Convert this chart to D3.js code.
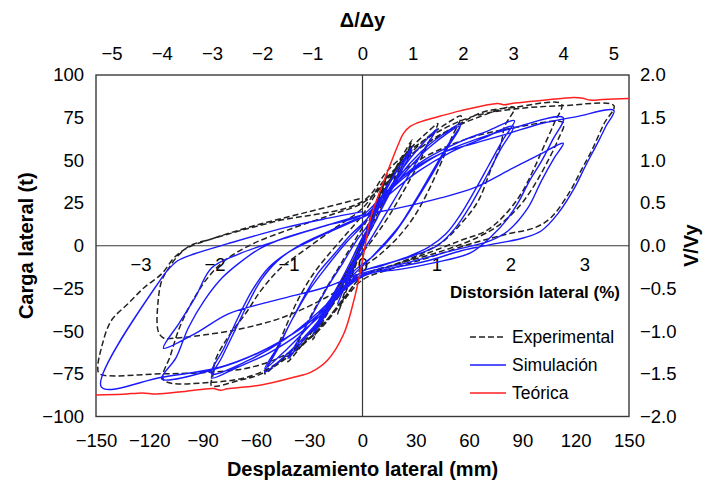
<!DOCTYPE html>
<html>
<head>
<meta charset="utf-8">
<script src="https://cdn.jsdelivr.net/npm/d3@7"></script>
<style>
  body { margin: 0; background: #fff; }
  text { font-family: "Liberation Sans", Arial, sans-serif; fill: #000; }
</style>
</head>
<body>
<svg id="chart" width="710" height="487"></svg>
<script>
// ---- axis ticks ----
const dispTicks = [-150, -120, -90, -60, -30, 0, 30, 60, 90, 120, 150];   // mm
const loadTicks = [-100, -75, -50, -25, 0, 25, 50, 75, 100];             // t
const ratioTicks = [-2.0, -1.5, -1.0, -0.5, 0.0, 0.5, 1.0, 1.5, 2.0];     // V/Vy
const ductTicks = [-5, -4, -3, -2, -1, 0, 1, 2, 3, 4, 5];                 // Δ/Δy
const driftTicks = [-3, -2, -1, 0, 1, 2, 3];                             // %

// ---- reference quantities ----
const yieldDisp = 28.25;   // Δy, mm
const yieldLoad = 50;      // Vy, t
const mmPerDrift = 41.65;  // mm of lateral displacement per 1 % drift

// ---- theoretical monotonic curve [mm, t] ----
const theory = [[-150,-87.4],[-135,-87],[-124,-86.2],[-116,-86.8],[-100,-85.3],[-84,-83.6],[-80,-84.6],[-76,-83.8],
  [-57,-81.5],[-38.8,-77],[-29,-74],[-19.7,-67],[-10.7,-52],[-5,-32.6],[-1,-14],[1,-3],[4,14],[8.4,28],[15.8,48],
  [20,59],[23,65.7],[27,70],[31,72],[44,76],[55,79],[76,83.3],[80,82.6],[84,83.3],[112,86.2],[119,86.8],[124,86.4],
  [128,85.3],[135,85.6],[150,86.2]];

// ---- simulated hysteresis, one array per cycle [mm, t] ----
const simC1 = [[0,0],[5,12],[10,26],[14,36],[9,24],[4,11],[0,1],[-5,-12],[-10,-24],[-14,-34],[-9,-21],[-4,-8],[1,4]];
const simC2 = [[1,4],[6,16],[12,30],[20,45],[28,58],[22,46],[15,31],[8,16],[2,4],[-4,-8],[-10,-20],[-18,-36],[-28,-52],
  [-21,-38],[-14,-24],[-7,-10],[-1,3],[3,10]];
const simC3 = [[3,10],[10,26],[18,42],[28,56],[21,42],[13,26],[5,10],[-2,-3],[-9,-17],[-18,-35],[-28,-50],[-20,-35],
  [-12,-20],[-5,-6],[2,8]];
const simC4 = [[2,8],[8,20],[16,35],[26,50],[35,61],[42,68.6],[35,57],[27,43],[19,29],[11,15],[4,3],[-3,-8],[-10,-20],
  [-19,-35],[-29,-50],[-37,-60],[-42,-66],[-35,-53],[-27,-38],[-19,-23],[-11,-10],[-4,2],[3,12]];
const simC5 = [[3,12],[11,25],[21,41],[33,55],[45,65],[55.5,71.6],[48,59],[39,43],[30,27],[21,12],[12,1],[3,-9],[-6,-18],
  [-16,-32],[-28,-48],[-41,-62],[-55,-74],[-48,-61],[-41,-46],[-33,-30],[-25,-16],[-16,-5],[-7,6],[1,14]];
const simC6 = [[1,14],[12,27],[24,43],[38,58],[55,70],[47,56],[37,38],[27,21],[17,6],[6,-6],[-5,-15],[-17,-30],[-30,-47],
  [-43,-61],[-55,-72],[-47,-58],[-39,-42],[-30,-26],[-20,-12],[-9,2],[0,12]];
const simC7 = [[0,12],[8,24],[20,38],[36,51],[55,61],[70,67],[85.5,73.3],[79,62],[71,47],[63,32],[55,18],[47,7],[37,-1],
  [24,-7],[10,-12],[0,-15],[-9,-24],[-20,-37],[-35,-51],[-53,-63],[-70,-71],[-85,-77.4],[-79,-65],[-72,-50],[-65,-35],
  [-57,-20],[-48,-9],[-36,0],[-20,8],[-5,15],[3,18]];
const simC8 = [[3,18],[15,30],[32,44],[50,55],[68,63],[85,70],[78,57],[70,41],[61,24],[52,10],[42,0],[28,-6],[12,-11],
  [0,-15],[-12,-26],[-26,-40],[-44,-55],[-64,-67],[-85,-75],[-78,-60],[-70,-42],[-62,-26],[-53,-13],[-42,-4],[-25,5],
  [-8,13],[2,18]];
const simC9 = [[2,18],[12,29],[26,42],[44,54],[63,62],[85,69],[113,75],[107,62],[101,50],[94,38],[88,26],[81,15],[74,7],
  [61,-4],[40,-10],[20,-14],[0,-17],[-11,-26],[-22,-38],[-37,-50],[-59,-63],[-82,-72],[-113,-78],[-105,-65.7],[-98,-48],
  [-89,-32],[-79,-18.8],[-70,-10.6],[-57,-1.2],[-43.6,4.7],[-20,12],[0,18]];
const simC10 = [[0,18],[20,22],[44,28],[63,34],[82,44],[100.7,54],[113,60],[108,51.6],[100.7,38],[93,22],[82,8.8],[72,3],
  [50,-3],[25,-10],[0,-16],[-20,-24],[-43.6,-30.5],[-57,-34],[-75.8,-40],[-94.5,-51.6],[-112,-60],[-103,-45],[-94,-30],
  [-85,-13],[-70,-5],[-45,4],[-20,12],[0,18]];
const simC11 = [[0,18],[10,28],[22,40],[44,54],[63,60],[82,65.7],[100.7,71.6],[120,75.5],[141.5,79.2],[137,70],[133,61.6],
  [125,45.7],[119.4,34],[110,18.8],[100.7,8.8],[91,4.7],[78,1.8],[63,-1.2],[55.5,-2.9],[36.8,-8.8],[17.5,-12.9],[0,-18],
  [-10.8,-26.4],[-22,-38],[-36.8,-50],[-59.4,-63],[-82,-71.6],[-113,-77],[-147,-82.7],[-113,-18.8],[-110,-14.7],
  [-104,-8.8],[-94.5,-4.7],[-75.8,1.2],[-43.6,10.6],[-20,16],[0,20]];

// ---- experimental hysteresis, one array per cycle [mm, t] ----
const expC1 = [[0,0],[4,14],[7,24],[3,12],[0,2],[-4,-10],[-7,-20],[-3,-9],[0,1]];
const expC2 = [[0,1],[5,16],[10,30],[14,42],[9,28],[4,14],[0,3],[-5,-12],[-10,-27],[-14,-40],[-9,-26],[-4,-12],[1,4]];
const expC3 = [[1,4],[7,20],[14,36],[21,50],[28,62],[22,48],[15,32],[8,16],[1,2],[-6,-12],[-13,-27],[-21,-42],[-28,-55],
  [-21,-40],[-14,-25],[-6,-10],[0,3],[6,18]];
const expC4 = [[6,18],[13,33],[20,47],[28,59],[21,44],[13,28],[5,12],[-2,-2],[-9,-17],[-18,-35],[-28,-52],[-20,-36],
  [-12,-21],[-4,-6],[3,10]];
const expC5 = [[3,10],[10,28],[18,44],[28,58],[36,66],[42.4,71.6],[37,60],[30,45],[22,30],[14,16],[6,4],[-2,-7],[-10,-22],
  [-20,-38],[-31,-54],[-42,-68],[-36,-56],[-29,-41],[-21,-26],[-13,-12],[-5,2],[2,14]];
const expC6 = [[2,14],[10,30],[22,48],[36,63],[48,72],[55.5,76],[50,63],[44,48],[37,32],[29,17],[20,5],[10,-5],[0,-13],
  [-10,-25],[-22,-42],[-36,-58],[-47,-68],[-55,-75],[-49,-62],[-43,-47],[-36,-31],[-28,-17],[-19,-5],[-9,7],[0,18]];
const expC7 = [[0,18],[10,34],[24,50],[42,64],[62,74],[85.5,81],[80,70],[78,60],[72,44],[65,26],[55.5,13],[46,3],
  [33,-4.7],[18,-11],[0,-18],[-10,-30],[-22,-46],[-38,-62],[-57,-75],[-70,-79],[-85,-82],[-84,-75],[-83,-67.5],[-76,-54],
  [-66,-40],[-57,-26],[-46,-13],[-32,-2],[-16,10],[0,22]];
const expC8 = [[0,22],[12,38],[28,54],[48,67],[67,78],[85,81],[112,83],[108,72],[102,58],[96,44],[89,30],[80,18],[70,9],
  [55,3],[35,-5],[16,-12],[0,-18],[-10,-30],[-24,-48],[-44,-66],[-62,-76],[-85,-80],[-112,-78.5],[-108,-64],[-103,-48],
  [-96,-33],[-88,-20],[-78,-9],[-62,1],[-40,10],[-18,18],[0,25]];
const expC9 = [[0,25],[15,38],[35,52],[60,63],[85,69],[113,72],[110,62],[104,49],[97,36],[89,24],[78,13],[65,5],[45,-3],
  [22,-10],[0,-17],[-20,-30],[-45,-42],[-70,-49],[-95,-53],[-104,-54],[-112,-54],[-115,-50],[-115,-32],[-113,-20.5],
  [-110,-14.7],[-104,-6],[-97,0],[-85,4],[-50,14],[0,26]];
const expC10 = [[0,26],[15,45],[35,62],[60,75],[85,80],[112,82],[141.5,82],[136,71.6],[129,55.7],[123,44],[116,30.5],
  [106,16.4],[97,10.6],[82,7],[63,1.8],[37,-7],[18,-13],[0,-20],[-12,-34],[-25,-50],[-42,-63],[-62,-71],[-85,-74],
  [-113,-75],[-148,-75],[-149,-71.6],[-147,-60],[-141.5,-44],[-132,-34],[-123,-24.6],[-113,-16.4],[-106,-7],[-98.5,-1.2],
  [-85,4],[-60,12],[-30,20],[0,28]];

const simCycles = [simC1, simC2, simC3, simC4, simC5, simC6, simC7, simC8, simC9, simC10, simC11];
const expCycles = [expC1, expC2, expC3, expC4, expC5, expC6, expC7, expC8, expC9, expC10];

// join cycles into one continuous loading history
function joinCycles(cycles) {
  const out = [];
  cycles.forEach((c, i) => c.forEach((p, j) => { if (i === 0 || j > 0) out.push(p); }));
  return out;
}
const simulation = joinCycles(simCycles);
const experimental = joinCycles(expCycles);

// ---- layout ----
const svg = d3.select("#chart");
const plot = { left: 96, right: 629, top: 75, bottom: 416.5 };

const x = d3.scaleLinear().domain([-150, 150]).range([plot.left, plot.right]);
const y = d3.scaleLinear().domain([-100, 100]).range([plot.bottom, plot.top]);
const yRatio = d3.scaleLinear().domain([-100 / yieldLoad, 100 / yieldLoad]).range([plot.bottom, plot.top]);
const xDuct = d3.scaleLinear().domain([-150 / yieldDisp, 150 / yieldDisp]).range([plot.left, plot.right]);
const xDrift = d3.scaleLinear().domain([-150 / mmPerDrift, 150 / mmPerDrift]).range([plot.left, plot.right]);

const tickFont = "18.5px";
const titleFont = "20px";

function styleAxis(g) {
  g.select(".domain").remove();
  g.selectAll(".tick line").remove();
  g.selectAll(".tick text").style("font-size", tickFont).attr("fill", "#111");
}

// bottom: displacement
svg.append("g").attr("transform", `translate(0,${plot.bottom})`)
  .call(d3.axisBottom(x).tickValues(dispTicks).tickSize(0).tickPadding(17).tickFormat(d3.format("d")))
  .call(styleAxis);
// top: ductility
svg.append("g").attr("transform", `translate(0,${plot.top})`)
  .call(d3.axisTop(xDuct).tickValues(ductTicks).tickSize(0).tickPadding(15).tickFormat(d3.format("d")))
  .call(styleAxis);
// left: load
svg.append("g").attr("transform", `translate(${plot.left},0)`)
  .call(d3.axisLeft(y).tickValues(loadTicks).tickSize(0).tickPadding(12).tickFormat(d3.format("d")))
  .call(styleAxis);
// right: V/Vy
svg.append("g").attr("transform", `translate(${plot.right},0)`)
  .call(d3.axisRight(yRatio).tickValues(ratioTicks).tickSize(0).tickPadding(11).tickFormat(d3.format(".1f")))
  .call(styleAxis);

// frame and zero lines
svg.append("rect").attr("x", plot.left).attr("y", plot.top)
  .attr("width", plot.right - plot.left).attr("height", plot.bottom - plot.top)
  .attr("fill", "none").attr("stroke", "#3a3a3a").attr("stroke-width", 1.4);
svg.append("line").attr("x1", plot.left).attr("x2", plot.right).attr("y1", y(0)).attr("y2", y(0))
  .attr("stroke", "#3a3a3a").attr("stroke-width", 1.2);
svg.append("line").attr("x1", x(0)).attr("x2", x(0)).attr("y1", plot.top).attr("y2", plot.bottom)
  .attr("stroke", "#3a3a3a").attr("stroke-width", 1.2);

// inner drift axis along the zero-load line
svg.append("g").attr("transform", `translate(0,${y(0)})`)
  .call(d3.axisBottom(xDrift).tickValues(driftTicks).tickSize(0).tickPadding(12).tickFormat(d3.format("d")))
  .call(styleAxis);

// ---- curves ----
const line = d3.line().x(d => x(d[0])).y(d => y(d[1])).curve(d3.curveCatmullRom.alpha(0.5));

svg.append("path").datum(experimental).attr("d", line)
  .attr("fill", "none").attr("stroke", "#222").attr("stroke-width", 1.5).attr("stroke-dasharray", "6,3");
svg.append("path").datum(simulation).attr("d", line)
  .attr("fill", "none").attr("stroke", "#1a1aff").attr("stroke-width", 1.4);
svg.append("path").datum(theory).attr("d", line)
  .attr("fill", "none").attr("stroke", "#ff2020").attr("stroke-width", 1.5);

// ---- titles ----
svg.append("text").attr("x", x(0)).attr("y", 476).attr("text-anchor", "middle")
  .style("font-size", titleFont).style("font-weight", "bold").text("Desplazamiento lateral (mm)");
svg.append("text").attr("x", x(0)).attr("y", 27).attr("text-anchor", "middle")
  .style("font-size", titleFont).style("font-weight", "bold").text("Δ/Δy");
svg.append("text").attr("transform", `translate(33,${y(0)}) rotate(-90)`).attr("text-anchor", "middle")
  .style("font-size", titleFont).style("font-weight", "bold").text("Carga lateral (t)");
svg.append("text").attr("transform", `translate(698,${y(0)}) rotate(-90)`).attr("text-anchor", "middle")
  .style("font-size", titleFont).style("font-weight", "bold").text("V/Vy");
svg.append("text").attr("x", 620).attr("y", 298).attr("text-anchor", "end")
  .style("font-size", "17px").style("font-weight", "bold").text("Distorsión lateral (%)");

// ---- legend ----
const legend = [
  { label: "Experimental", color: "#222", dash: "6,3" },
  { label: "Simulación", color: "#1a1aff", dash: null },
  { label: "Teórica", color: "#ff2020", dash: null }
];
const lg = svg.append("g").attr("transform", "translate(470,337)");
legend.forEach((d, i) => {
  const row = lg.append("g").attr("transform", `translate(0,${i * 28})`);
  row.append("line").attr("x1", 0).attr("x2", 36).attr("y1", 0).attr("y2", 0)
    .attr("stroke", d.color).attr("stroke-width", 1.6).attr("stroke-dasharray", d.dash);
  row.append("text").attr("x", 42).attr("y", 6).style("font-size", "17.5px").text(d.label);
});
</script>
</body>
</html>
